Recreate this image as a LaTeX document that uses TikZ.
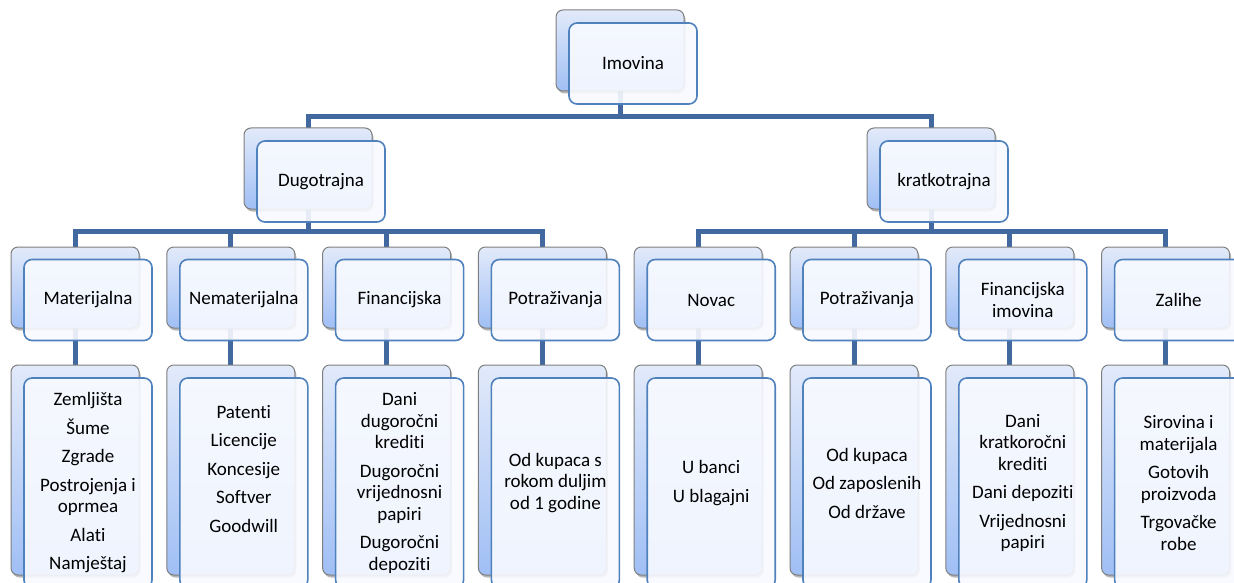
\documentclass[tikz,border=0pt]{standalone}
\usepackage{fontspec}
\setmainfont{Carlito}[Ligatures={NoCommon}]
\usetikzlibrary{shadows,backgrounds}
\definecolor{connc}{HTML}{41699F}
\definecolor{frontc}{HTML}{4F81BD}
\definecolor{frontfill}{HTML}{F8FAFF}
\definecolor{backc}{HTML}{7F7F7F}
\definecolor{backtop}{HTML}{E2EAFA}
\definecolor{backbot}{HTML}{A0BFF5}
\tikzset{
  backbox/.style={draw=backc, line width=1pt, rounded corners=7pt,
    top color=backtop, bottom color=backbot,
    drop shadow={shadow xshift=1.5pt, shadow yshift=-2.5pt, opacity=0.4, fill=black!70},
    anchor=north west, inner sep=0pt, outer sep=0pt, minimum width=128pt},
  frontbox/.style={draw=frontc, line width=1.6pt, rounded corners=8pt,
    fill=frontfill, fill opacity=0.9, text opacity=1,
    anchor=north west, inner sep=0pt, outer sep=0pt, minimum width=128pt,
    align=center, font=\fontsize{19}{21.5}\selectfont},
  connector/.style={draw=connc, line width=5pt},
  lvlbox/.style={minimum height=81pt},
  tallbox/.style={minimum height=210pt},
}
\begin{document}
\begin{tikzpicture}[x=1pt,y=-1pt]
\useasboundingbox (0,0) rectangle (1234,583);
\clip (0,0) rectangle (1234,583);

% level 0
\node[backbox,lvlbox] (imovB) at (556,10) {};
\node[frontbox,lvlbox] (imovF) at (569,23) {Imovina};

% level 1
\node[backbox,lvlbox] (dugB) at (244,128) {};
\node[frontbox,lvlbox] (dugF) at (257,141) {Dugotrajna};
\node[backbox,lvlbox] (kraB) at (867,128) {};
\node[frontbox,lvlbox] (kraF) at (880,141) {kratkotrajna};

% level 2
\node[backbox,lvlbox] (matB) at (11,247) {};
\node[frontbox,lvlbox] (matF) at (24,259.5) {Materijalna};
\node[backbox,lvlbox] (nemB) at (166.8,247) {};
\node[frontbox,lvlbox] (nemF) at (179.8,259.5) {Nematerijalna};
\node[backbox,lvlbox] (finB) at (322.6,247) {};
\node[frontbox,lvlbox] (finF) at (335.6,259.5) {Financijska};
\node[backbox,lvlbox] (pdB) at (478.4,247) {};
\node[frontbox,lvlbox] (pdF) at (491.4,259.5) {Potraživanja};
\node[backbox,lvlbox] (novB) at (634.2,247) {};
\node[frontbox,lvlbox] (novF) at (647.2,259.5) {Novac};
\node[backbox,lvlbox] (pkB) at (790,247) {};
\node[frontbox,lvlbox] (pkF) at (803,259.5) {Potraživanja};
\node[backbox,lvlbox] (fiB) at (945.8,247) {};
\node[frontbox,lvlbox] (fiF) at (958.8,259.5) {Financijska\\imovina};
\node[backbox,lvlbox] (zalB) at (1101.6,247) {};
\node[frontbox,lvlbox] (zalF) at (1114.6,259.5) {Zalihe};

% level 3
\node[backbox,tallbox] (m3B) at (11,365) {};
\node[frontbox,tallbox] (m3F) at (24,378) {Zemljišta\\[7pt]Šume\\[7pt]Zgrade\\[7pt]Postrojenja i\\oprmea\\[7pt]Alati\\[7pt]Namještaj};
\node[backbox,tallbox] (n3B) at (166.8,365) {};
\node[frontbox,tallbox] (n3F) at (179.8,378) {Patenti\\[7pt]Licencije\\[7pt]Koncesije\\[7pt]Softver\\[7pt]Goodwill\\[7pt]\mbox{}};
\node[backbox,tallbox] (f3B) at (322.6,365) {};
\node[frontbox,tallbox] (f3F) at (335.6,378) {Dani\\dugoročni\\krediti\\[7pt]Dugoročni\\vrijednosni\\papiri\\[7pt]Dugoročni\\depoziti};
\node[backbox,tallbox] (pd3B) at (478.4,365) {};
\node[frontbox,tallbox] (pd3F) at (491.4,378) {Od kupaca s\\rokom duljim\\od 1 godine};
\node[backbox,tallbox] (nov3B) at (634.2,365) {};
\node[frontbox,tallbox] (nov3F) at (647.2,378) {U banci\\[7pt]U blagajni};
\node[backbox,tallbox] (pk3B) at (790,365) {};
\node[frontbox,tallbox] (pk3F) at (803,378) {Od kupaca\\[7pt]Od zaposlenih\\[7pt]Od države};
\node[backbox,tallbox] (fi3B) at (945.8,365) {};
\node[frontbox,tallbox] (fi3F) at (958.8,378) {Dani\\kratkoročni\\krediti\\[7pt]Dani depoziti\\[7pt]Vrijednosni\\papiri};
\node[backbox,tallbox] (zal3B) at (1101.6,365) {};
\node[frontbox,tallbox] (zal3F) at (1114.6,378) {Sirovina i\\materijala\\[7pt]Gotovih\\proizvoda\\[7pt]Trgovačke\\robe};

% connectors
\begin{scope}[on background layer]
\fill[white] (0,0) rectangle (1234,583);
\coordinate (busA) at (0,116.5);
\coordinate (busB) at (0,231.5);
\draw[connector] (imovB.south) |- (busA -| dugB.north) -- (dugB.north);
\draw[connector] (imovB.south) |- (busA -| kraB.north) -- (kraB.north);
\foreach \c in {matB,nemB,finB,pdB}
  \draw[connector] (dugB.south) |- (busB -| \c.north) -- (\c.north);
\foreach \c in {novB,pkB,fiB,zalB}
  \draw[connector] (kraB.south) |- (busB -| \c.north) -- (\c.north);
\draw[connector] (matB.south) -- (m3B.north);
\draw[connector] (nemB.south) -- (n3B.north);
\draw[connector] (finB.south) -- (f3B.north);
\draw[connector] (pdB.south) -- (pd3B.north);
\draw[connector] (novB.south) -- (nov3B.north);
\draw[connector] (pkB.south) -- (pk3B.north);
\draw[connector] (fiB.south) -- (fi3B.north);
\draw[connector] (zalB.south) -- (zal3B.north);
\end{scope}
\end{tikzpicture}
\end{document}
